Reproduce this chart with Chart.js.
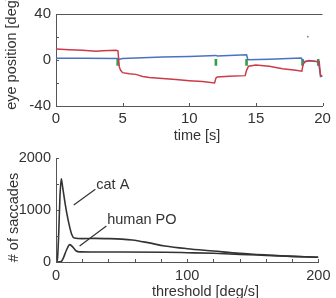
<!DOCTYPE html>
<html>
<head>
<meta charset="utf-8">
<script src="https://cdn.jsdelivr.net/npm/chart.js@4.4.1/dist/chart.umd.min.js"></script>
<style>
  html, body { margin: 0; padding: 0; background: #fff; }
  #wrap { position: relative; width: 336px; height: 298px; overflow: hidden; }
  canvas { position: absolute; left: 0; }
  #top { top: 0; }
  #bottom { top: 143px; }
</style>
</head>
<body>
<div id="wrap">
  <canvas id="top" width="336" height="143"></canvas>
  <canvas id="bottom" width="336" height="155"></canvas>
</div>
<script>
// eye position traces (time in s, position in deg)
const redT = [0, 1, 2, 3, 3.5, 4.5, 4.65, 4.75, 4.85, 5, 5.5, 6, 6.5, 7, 8, 9, 10, 11, 11.9, 12.0, 12.1, 13, 14.2, 14.3, 14.45, 15, 16, 17, 18, 18.45, 18.55, 18.7, 19, 19.5, 19.75, 19.85, 20];
const redY = [9.5, 8.9, 8.4, 7.6, 8, 8.4, 8, -6, -9, -11, -12, -12.5, -14.4, -15.3, -16, -17, -18, -18.8, -20, -15.8, -14.7, -14.2, -13.6, -9, -5.4, -4.3, -5.4, -7.6, -9, -9.8, -3.5, -1.5, -0.4, -1.2, -1.5, -13, -14.4];
const blueT = [0, 2, 4.6, 4.75, 5, 8, 10, 12, 12.1, 14.3, 14.4, 16, 18.4, 18.6, 19, 19.7, 19.85, 20];
const blueY = [1.5, 1.5, 1.2, 0.7, 1.2, 2.6, 3.1, 4, 3.5, 4.5, 0.2, 0.7, 1.8, -1.5, -0.7, -1.5, -14.4, -13.9];
const saccadeT = [4.63, 12.0, 14.3, 18.5, 19.68];
const saccadeY = [-2.1, -2.1, -2.1, -2.1, -2.1];
const strayT = [18.9];
const strayY = [20.2];

// number of saccades vs threshold (deg/s)
const catThr = [0, 1, 2, 3, 4, 5, 6.5, 8, 10, 12, 14, 20, 30, 40, 50, 58, 70, 83, 100, 120, 140, 160, 180, 200];
const catCount = [0, 40, 500, 1250, 1600, 1450, 1200, 970, 720, 530, 460, 450, 455, 450, 440, 423, 372, 308, 256, 212, 167, 135, 109, 90];
const humanThr = [0, 4, 5.5, 8, 10.5, 13, 15.5, 18, 30, 50, 83, 100, 120, 140, 160, 180, 200];
const humanCount = [0, 10, 71, 231, 335, 282, 212, 195, 192, 192, 188, 179, 167, 147, 128, 109, 90];

const FONT = "'Liberation Sans', Arial, sans-serif";
const INK = '#333';
const AXIS = '#555';

function pts(xs, ys) { return xs.map((x, i) => ({ x: x, y: ys[i] })); }

// MATLAB style ticks pointing into the plot
const inTicks = {
  id: 'inTicks',
  afterDraw(chart) {
    const ctx = chart.ctx, a = chart.chartArea;
    ctx.save();
    ctx.strokeStyle = AXIS;
    ctx.lineWidth = 1;
    ctx.beginPath();
    const xs = chart.scales.x, ys = chart.scales.y;
    xs.ticks.forEach(t => {
      const p = Math.round(xs.getPixelForValue(t.value)) + 0.5;
      ctx.moveTo(p, a.bottom); ctx.lineTo(p, a.bottom - 3);
    });
    ys.ticks.forEach(t => {
      const p = Math.round(ys.getPixelForValue(t.value)) + 0.5;
      ctx.moveTo(a.left, p); ctx.lineTo(a.left + 3, p);
    });
    if (chart.options.plugins.inTicks && chart.options.plugins.inTicks.topLine) {
      ctx.moveTo(a.left, Math.round(a.top) + 0.5); ctx.lineTo(a.right, Math.round(a.top) + 0.5);
    }
    ctx.stroke();
    ctx.restore();
  }
};

// axis titles and annotations
const labels = {
  id: 'labels',
  afterDraw(chart) {
    const o = chart.options.plugins.labels;
    if (!o) return;
    const ctx = chart.ctx;
    ctx.save();
    ctx.fillStyle = INK;
    ctx.font = '14.5px ' + FONT;
    ctx.textAlign = 'center';
    ctx.textBaseline = 'middle';
    ctx.fillText(o.xTitle[0], o.xTitle[1], o.xTitle[2]);
    ctx.save();
    ctx.translate(o.yTitle[1], o.yTitle[2]);
    ctx.rotate(-Math.PI / 2);
    ctx.fillText(o.yTitle[0], 0, 0);
    ctx.restore();
    if (o.notes) {
      const xs = chart.scales.x, ys = chart.scales.y;
      o.notes.forEach(n => {
        ctx.strokeStyle = INK;
        ctx.lineWidth = 1.2;
        ctx.beginPath();
        ctx.moveTo(xs.getPixelForValue(n.from[0]), ys.getPixelForValue(n.from[1]));
        ctx.lineTo(xs.getPixelForValue(n.to[0]), ys.getPixelForValue(n.to[1]));
        ctx.stroke();
        ctx.textAlign = 'left';
        ctx.fillText(n.text, xs.getPixelForValue(n.at[0]), ys.getPixelForValue(n.at[1]));
      });
    }
    ctx.restore();
  }
};

function axisX(min, max, step, show, height, pad, size) {
  return {
    type: 'linear', min: min, max: max,
    grid: { display: false, drawTicks: false },
    border: { display: true, color: AXIS, width: 1 },
    ticks: {
      stepSize: step, autoSkip: false, maxRotation: 0, padding: pad,
      color: INK, font: { family: FONT, size: size },
      callback: v => show.includes(v) ? String(v) : ''
    },
    afterFit: s => { s.height = height; }
  };
}
function axisY(min, max, step, show, size) {
  return {
    type: 'linear', min: min, max: max,
    grid: { display: false, drawTicks: false },
    border: { display: true, color: AXIS, width: 1 },
    ticks: {
      stepSize: step, autoSkip: false, padding: 5,
      color: INK, font: { family: FONT, size: size },
      callback: v => show.includes(v) ? String(v) : ''
    },
    afterFit: s => { s.width = 56; }
  };
}

new Chart(document.getElementById('top'), {
  type: 'line',
  data: {
    datasets: [
      { data: pts(redT, redY), borderColor: '#cc3b48', borderWidth: 1.5, pointRadius: 0, tension: 0 },
      { data: pts(blueT, blueY), borderColor: '#4a72c0', borderWidth: 1.5, pointRadius: 0, tension: 0 },
      { type: 'scatter', data: pts(saccadeT, saccadeY), pointStyle: 'line', rotation: 90,
        radius: 3.4, borderWidth: 2.6, borderColor: '#2fa04a', backgroundColor: '#2fa04a' },
      { type: 'scatter', data: pts(strayT, strayY), pointRadius: 0.9, borderWidth: 0,
        backgroundColor: '#888' }
    ]
  },
  options: {
    responsive: false, animation: false,
    layout: { padding: { left: 0, top: 9, right: 13.5, bottom: 0 } },
    scales: {
      x: axisX(0, 20, 5, [0, 5, 10, 15, 20], 37, 4, 15),
      y: axisY(-40, 40, 20, [40, 0, -40], 15)
    },
    plugins: {
      legend: { display: false }, tooltip: { enabled: false },
      inTicks: { topLine: true },
      labels: { xTitle: ['time [s]', 197, 136], yTitle: ['eye position [deg]', 12, 53] }
    }
  },
  plugins: [inTicks, labels]
});

new Chart(document.getElementById('bottom'), {
  type: 'line',
  data: {
    datasets: [
      { data: pts(catThr, catCount), borderColor: '#333', borderWidth: 1.6, pointRadius: 0, cubicInterpolationMode: 'monotone' },
      { data: pts(humanThr, humanCount), borderColor: '#333', borderWidth: 1.6, pointRadius: 0, cubicInterpolationMode: 'monotone' }
    ]
  },
  options: {
    responsive: false, animation: false,
    layout: { padding: { left: 0, top: 15, right: 13, bottom: 0 } },
    scales: {
      x: axisX(0, 200, 20, [0, 100, 200], 36, 5.5, 14.5),
      y: axisY(0, 2000, 500, [0, 1000, 2000], 14.5)
    },
    plugins: {
      legend: { display: false }, tooltip: { enabled: false },
      inTicks: { topLine: false },
      labels: {
        xTitle: ['threshold [deg/s]', 205.5, 148.7],
        yTitle: ['# of saccades', 14, 74.5],
        notes: [
          { text: 'cat A', from: [13.5, 1096], to: [30, 1398], at: [30.7, 1481] },
          { text: 'human PO', from: [18, 308], to: [38.4, 692], at: [39, 808] }
        ]
      }
    }
  },
  plugins: [inTicks, labels]
});
</script>
</body>
</html>
